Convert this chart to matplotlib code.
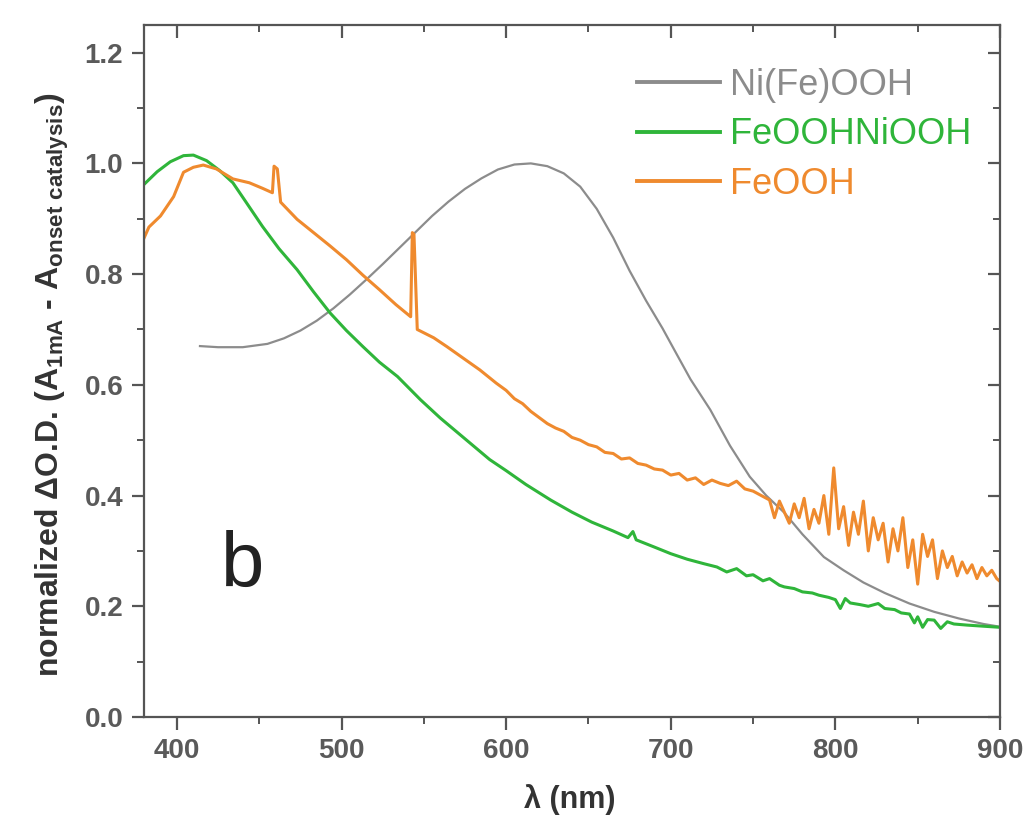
import matplotlib
matplotlib.use("Agg")
import matplotlib.pyplot as plt
from matplotlib.ticker import MultipleLocator, FormatStrFormatter

plt.rcParams['font.family'] = ['Liberation Sans', 'DejaVu Sans']
plt.rcParams['mathtext.fontset'] = 'custom'
plt.rcParams['mathtext.rm'] = 'Liberation Sans:bold'
plt.rcParams['mathtext.default'] = 'rm'

# --- spectra: wavelength (nm) and normalized dOD ---
nife_nm = [414, 425, 440, 455, 465, 475, 485, 495, 505, 515, 525, 535, 545, 555,
           565, 575, 585, 595, 605, 615, 625, 635, 645, 655, 665, 675, 685, 695,
           702, 712, 724, 736, 748, 758, 769, 780, 793, 805, 817, 830, 845, 860,
           875, 890, 900]
nife_od = [0.670, 0.668, 0.668, 0.674, 0.684, 0.698, 0.716, 0.738, 0.763, 0.790,
           0.818, 0.847, 0.876, 0.905, 0.931, 0.954, 0.973, 0.989, 0.998, 1.000,
           0.995, 0.982, 0.958, 0.918, 0.866, 0.806, 0.752, 0.702, 0.664, 0.610,
           0.555, 0.490, 0.434, 0.400, 0.369, 0.330, 0.289, 0.265, 0.243, 0.224,
           0.205, 0.190, 0.178, 0.168, 0.163]

mixed_nm = [380, 388, 396, 404, 410, 418, 426, 434, 442, 452, 462, 473, 483, 493,
            503, 513, 523, 534, 548, 560, 570, 580, 590, 600, 612, 627, 640, 652,
            665, 674, 677, 679, 690, 700, 710, 720, 728, 734, 740, 746, 750, 756,
            760, 766, 769, 775, 780, 786, 790, 796, 800, 803, 806, 809, 815, 820,
            826, 830, 836, 840, 845, 848, 850, 853, 856, 860, 864, 868, 872, 880,
            890, 900]
mixed_od = [0.962, 0.985, 1.003, 1.014, 1.015, 1.005, 0.987, 0.965, 0.930, 0.886,
            0.846, 0.808, 0.768, 0.730, 0.698, 0.669, 0.641, 0.615, 0.573, 0.540,
            0.515, 0.490, 0.465, 0.445, 0.420, 0.392, 0.370, 0.352, 0.336, 0.324,
            0.335, 0.320, 0.307, 0.295, 0.285, 0.277, 0.271, 0.262, 0.268, 0.255,
            0.257, 0.246, 0.250, 0.238, 0.235, 0.232, 0.226, 0.224, 0.220, 0.216,
            0.212, 0.196, 0.214, 0.206, 0.203, 0.200, 0.205, 0.196, 0.194, 0.188,
            0.186, 0.170, 0.181, 0.162, 0.176, 0.175, 0.160, 0.172, 0.168, 0.166,
            0.164, 0.162]

feooh_nm = [380, 383, 390, 398, 404, 410, 416, 424, 434, 444, 452, 458, 459, 461,
            463, 473, 483, 493, 503, 513, 523, 533, 542, 543, 544, 546, 556, 564,
            574, 584, 594, 600, 605, 610, 615, 620, 625, 630, 635, 640, 645, 650,
            655, 660, 665, 670, 675, 680, 685, 690, 695, 700, 705, 710, 715, 720,
            725, 730, 735, 740, 745, 750, 755, 760, 763, 766, 769, 772, 775, 778,
            781, 784, 787, 790, 793, 796, 799, 802, 805, 808, 811, 814, 817, 820,
            823, 826, 829, 832, 835, 838, 841, 844, 847, 850, 853, 856, 859, 862,
            865, 868, 871, 874, 877, 880, 883, 886, 889, 892, 895, 898, 900]
feooh_od = [0.865, 0.885, 0.905, 0.940, 0.984, 0.993, 0.997, 0.990, 0.972, 0.965,
            0.955, 0.947, 0.995, 0.990, 0.930, 0.899, 0.875, 0.851, 0.826, 0.798,
            0.772, 0.745, 0.723, 0.875, 0.872, 0.700, 0.685, 0.669, 0.648, 0.627,
            0.603, 0.590, 0.575, 0.566, 0.552, 0.541, 0.530, 0.522, 0.516, 0.505,
            0.500, 0.492, 0.488, 0.478, 0.476, 0.466, 0.468, 0.458, 0.455, 0.448,
            0.446, 0.437, 0.440, 0.428, 0.432, 0.420, 0.428, 0.422, 0.418, 0.426,
            0.412, 0.408, 0.400, 0.392, 0.360, 0.390, 0.370, 0.350, 0.385, 0.360,
            0.395, 0.340, 0.375, 0.350, 0.400, 0.330, 0.450, 0.340, 0.380, 0.310,
            0.370, 0.330, 0.390, 0.300, 0.360, 0.320, 0.350, 0.280, 0.340, 0.300,
            0.360, 0.270, 0.320, 0.240, 0.330, 0.290, 0.320, 0.250, 0.300, 0.270,
            0.290, 0.255, 0.280, 0.260, 0.275, 0.250, 0.270, 0.255, 0.265, 0.250,
            0.245]

series_labels = ['Ni(Fe)OOH', 'FeOOHNiOOH', 'FeOOH']
series_colors = ['#8c8c8c', '#2fb53a', '#ef8a2e']

fig = plt.figure(figsize=(10.26, 8.38), dpi=100)
ax = fig.add_axes([144 / 1026, 1 - 717 / 838, 856 / 1026, 692 / 838])

ax.plot(nife_nm, nife_od, color=series_colors[0], lw=1.6, label=series_labels[0])
ax.plot(mixed_nm, mixed_od, color=series_colors[1], lw=2.2, label=series_labels[1])
ax.plot(feooh_nm, feooh_od, color=series_colors[2], lw=2.2, label=series_labels[2])

ax.set_xlim(380, 900)
ax.set_ylim(0.0, 1.25)

spine_color = '#555555'
for s in ax.spines.values():
    s.set_color(spine_color)
    s.set_linewidth(1.6)

ax.xaxis.set_major_locator(MultipleLocator(100))
ax.xaxis.set_minor_locator(MultipleLocator(50))
ax.yaxis.set_major_locator(MultipleLocator(0.2))
ax.yaxis.set_minor_locator(MultipleLocator(0.1))
ax.yaxis.set_major_formatter(FormatStrFormatter('%.1f'))
ax.tick_params(which='major', direction='out', length=9, width=1.6,
               color=spine_color, labelsize=20, labelcolor='#5a5a5a', pad=6)
ax.tick_params(which='minor', direction='out', length=5, width=1.4,
               color=spine_color)
for lab in ax.get_xticklabels() + ax.get_yticklabels():
    lab.set_fontweight('bold')

# inward ticks on the top and right frame
top = ax.secondary_xaxis('top')
top.xaxis.set_major_locator(MultipleLocator(100))
top.xaxis.set_minor_locator(MultipleLocator(50))
top.tick_params(which='major', direction='in', length=9, width=1.6,
                color=spine_color, labeltop=False)
top.tick_params(which='minor', direction='in', length=5, width=1.4,
                color=spine_color)
top.spines['top'].set_visible(False)
right = ax.secondary_yaxis('right')
right.yaxis.set_major_locator(MultipleLocator(0.2))
right.yaxis.set_minor_locator(MultipleLocator(0.1))
right.tick_params(which='major', direction='in', length=9, width=1.6,
                  color=spine_color, labelright=False)
right.tick_params(which='minor', direction='in', length=5, width=1.4,
                  color=spine_color)
right.spines['right'].set_visible(False)

leg = ax.legend(loc='upper left', bbox_to_anchor=(0.576, 0.938), frameon=False,
                fontsize=26, handlelength=2.3, handletextpad=0.28,
                labelspacing=0.40, borderpad=0, borderaxespad=0)
for txt, c in zip(leg.get_texts(), series_colors):
    txt.set_color(c)
for h in leg.get_lines():
    h.set_linewidth(2.8)

ax.text(427, 0.235, 'b', fontsize=56, color='#222222', ha='left', va='baseline')

fig.text(52 / 1026, 1 - 385 / 838,
         r'normalized ΔO.D. (A$_{1mA}$ - A$_{onset\ catalysis}$)',
         rotation=90, ha='center', va='center', fontsize=23,
         fontweight='bold', color='#333333')
fig.text(570 / 1026, 1 - 800 / 838, 'λ (nm)', ha='center', va='center',
         fontsize=22, fontweight='bold', color='#333333')

fig.savefig('out.png', dpi=100)
